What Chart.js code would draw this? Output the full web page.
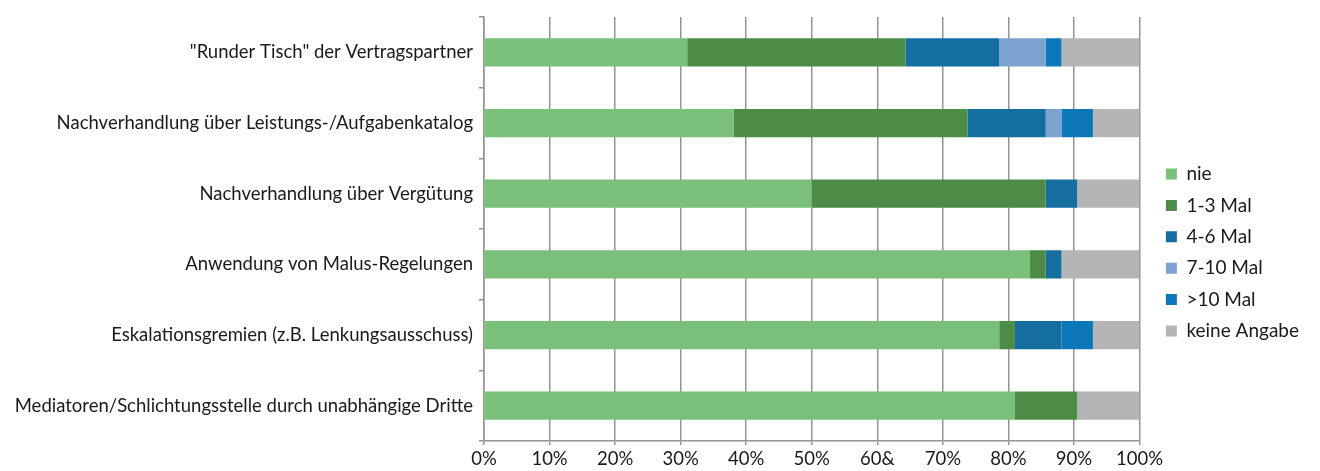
<!DOCTYPE html>
<html lang="de">
<head>
<meta charset="utf-8">
<title>Konfliktlösung</title>
<script src="https://cdn.jsdelivr.net/npm/chart.js@4.4.1/dist/chart.umd.min.js"></script>
<style>
  html, body { margin: 0; padding: 0; background: #fff; }
  #wrap { width: 1320px; height: 471px; position: relative; }
</style>
</head>
<body>
<div id="wrap"><canvas id="chart"></canvas></div>
<script>
// Kategorien (Instrumente) und Anteile je Antwort in %
var categories = [
  '"Runder Tisch" der Vertragspartner',
  "Nachverhandlung über Leistungs-/Aufgabenkatalog",
  "Nachverhandlung über Vergütung",
  "Anwendung von Malus-Regelungen",
  "Eskalationsgremien (z.B. Lenkungsausschuss)",
  "Mediatoren/Schlichtungsstelle durch unabhängige Dritte",
];

var nie = [31.0, 38.1, 50.0, 83.3, 78.6, 81.0];
var mal1bis3 = [33.3, 35.7, 35.7, 2.4, 2.4, 9.5];
var mal4bis6 = [14.3, 11.9, 4.8, 2.4, 7.1, 0];
var mal7bis10 = [7.1, 2.4, 0, 0, 0, 0];
var malUeber10 = [2.4, 4.8, 0, 0, 4.8, 0];
var keineAngabe = [11.9, 7.1, 9.5, 11.9, 7.1, 9.5];

var seriesNames = ["nie", "1-3 Mal", "4-6 Mal", "7-10 Mal", ">10 Mal", "keine Angabe"];
var seriesColors = ["#7ac07b", "#4c8c46", "#156ea0", "#7ca2cf", "#0c78ba", "#b4b5b4"];

var xTickLabels = ["0%", "10%", "20%", "30%", "40%", "50%", "60&", "70%", "80%", "90%", "100%"];

var fontFamily = "Lato, 'Noto Sans', sans-serif";
var gridColor = "#949494";

var values = [nie, mal1bis3, mal4bis6, mal7bis10, malUeber10, keineAngabe];
var datasets = [];
for (var i = 0; i < values.length; i++) {
  datasets.push({
    label: seriesNames[i],
    data: values[i],
    backgroundColor: seriesColors[i],
    borderWidth: 0,
    barPercentage: 0.4,
    categoryPercentage: 1,
  });
}

Chart.defaults.font.family = fontFamily;
Chart.defaults.color = "#1a1a1a";

var ctx = document.getElementById("chart").getContext("2d");
var chart = new Chart(ctx, {
  type: "bar",
  data: {
    labels: categories,
    datasets: datasets,
  },
  options: {
    indexAxis: "y",
    responsive: true,
    maintainAspectRatio: false,
    animation: false,
    events: [],
    layout: {
      padding: { top: 14, right: 11, bottom: 0, left: 0 },
    },
    plugins: {
      tooltip: { enabled: false },
      legend: {
        position: "right",
        align: "center",
        // leerer Titel schiebt die Legende etwas nach unten
        title: {
          display: true,
          text: "",
          font: { size: 10, lineHeight: 1 },
          padding: { top: 10, bottom: 0 },
        },
        labels: {
          boxWidth: 11,
          boxHeight: 11,
          padding: 12.4,
          color: "#1a1a1a",
          font: { size: 19, family: fontFamily },
        },
      },
    },
    scales: {
      x: {
        stacked: true,
        min: 0,
        max: 100,
        ticks: {
          stepSize: 10,
          padding: 3,
          color: "#1a1a1a",
          font: { size: 18.5, family: fontFamily },
          callback: function (value, index) {
            return xTickLabels[index];
          },
        },
        grid: {
          color: gridColor,
          lineWidth: 1.5,
          tickLength: 4,
        },
        border: { color: gridColor, width: 1.5 },
        afterFit: function (scale) {
          scale.height = 30;
        },
      },
      y: {
        stacked: true,
        ticks: {
          padding: 6,
          color: "#1a1a1a",
          font: { size: 18.5, family: fontFamily },
        },
        grid: {
          offset: true,
          drawOnChartArea: false,
          color: gridColor,
          lineWidth: 1.5,
          tickLength: 5,
        },
        border: { color: gridColor, width: 1.5 },
        afterFit: function (scale) {
          scale.width = 484;
        },
      },
      // schmaler Abstand zwischen Diagramm und Legende
      gap: {
        type: "linear",
        position: "right",
        display: true,
        grid: { display: false },
        ticks: { display: false },
        border: { display: false },
        afterFit: function (scale) {
          scale.width = 14;
        },
      },
    },
  },
});
</script>
</body>
</html>
